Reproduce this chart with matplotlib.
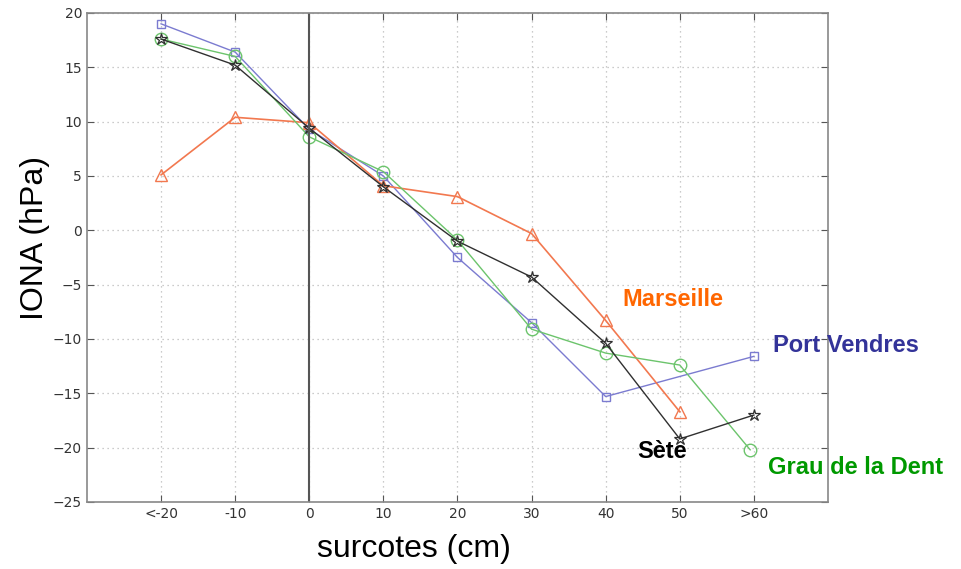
import numpy as np
import matplotlib
matplotlib.use("Agg")
import matplotlib.pyplot as plt

# x positions of the classes (cm)
x_pos = [-20, -10, 0, 10, 20, 30, 40, 50, 60]
x_labels = ['<-20', '-10', '0', '10', '20', '30', '40', '50', '>60']

# values (hPa)
port_x = [-20, -10, 0, 10, 20, 30, 40, 60]
port_y = [19.0, 16.4, 9.3, 5.0, -2.5, -8.5, -15.3, -11.6]

mars_x = [-20, -10, 0, 10, 20, 30, 40, 50]
mars_y = [5.1, 10.4, 9.9, 4.1, 3.1, -0.3, -8.3, -16.7]

sete_x = [-20, -10, 0, 10, 20, 30, 40, 50, 60]
sete_y = [17.6, 15.2, 9.4, 4.0, -1.0, -4.3, -10.4, -19.2, -17.0]

grau_x = [-20, -10, 0, 10, 20, 30, 40, 50, 59.5]
grau_y = [17.6, 16.0, 8.6, 5.4, -0.9, -9.1, -11.3, -12.4, -20.2]

fig = plt.figure(figsize=(9.62, 5.69), dpi=100)
ax = fig.add_axes([0.0904, 0.1178, 0.7703, 0.8594])

ax.plot(port_x, port_y, color='#7b7bd0', lw=1, marker='s', ms=6, mfc='none', mew=1)
ax.plot(mars_x, mars_y, color='#f2784f', lw=1.2, marker='^', ms=9, mfc='none', mew=1)
ax.plot(grau_x, grau_y, color='#6cc46c', lw=1, marker='o', ms=9, mfc='none', mew=1)
ax.plot(sete_x, sete_y, color='#303030', lw=1, marker='*', ms=9, mfc='none', mew=0.9)

ax.axvline(0, color='#555555', lw=1.5, zorder=2)

ax.set_xlim(-30, 70)
ax.set_ylim(-25, 20)
ax.set_xticks(x_pos)
ax.set_xticklabels(x_labels)
ax.set_yticks(np.arange(-25, 21, 5))
ax.grid(True, color='#bbbbbb', linestyle=(0, (1, 3)), lw=0.9)
ax.tick_params(direction='in', top=True, right=True, labelsize=10,
               colors='#555555', labelcolor='#333333', length=5)
for s in ax.spines.values():
    s.set_color('#888888')
    s.set_linewidth(1.2)

lab = dict(fontsize=17, fontweight='bold', family='Liberation Sans',
           clip_on=False, va='center', zorder=5)
ax.text(42.2, -6.4, 'Marseille', color='#ff6600', **lab)
ax.text(62.6, -10.6, 'Port Vendres', color='#333399', **lab)
ax.text(44.3, -20.4, 'Sète', color='black', **lab)
ax.text(61.9, -21.8, 'Grau de la Dent', color='#009900', **lab)

fig.text(0.430, 0.035, 'surcotes (cm)', fontsize=23, family='Liberation Sans',
         ha='center', va='center')
fig.text(0.036, 0.582, 'IONA (hPa)', fontsize=23, family='Liberation Sans',
         ha='center', va='center', rotation=90)

fig.savefig('out.png', dpi=100)
